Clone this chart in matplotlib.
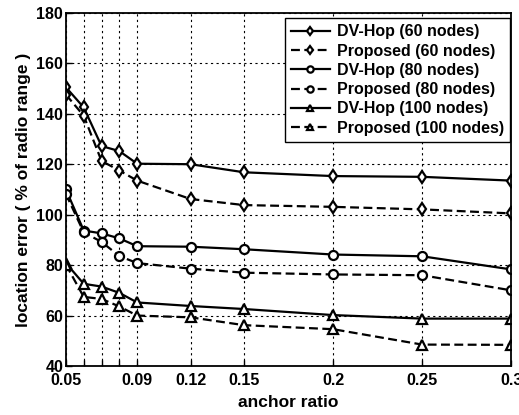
import matplotlib
matplotlib.use("Agg")
import matplotlib.pyplot as plt

# anchor ratios used in the simulations
anchor_ratio = [0.05, 0.06, 0.07, 0.08, 0.09, 0.12, 0.15, 0.2, 0.25, 0.3]

# location error, % of radio range
dvhop_60 = [150.5, 142.5, 127.2, 125.2, 120.2, 120.0, 116.8, 115.3, 115.0, 113.5]
prop_60 = [147.6, 139.2, 121.3, 117.5, 113.5, 106.2, 103.8, 103.1, 102.1, 100.5]
dvhop_80 = [110.0, 93.7, 92.6, 90.6, 87.5, 87.3, 86.3, 84.2, 83.5, 78.3]
prop_80 = [108.2, 93.0, 89.2, 83.6, 80.8, 78.6, 77.0, 76.3, 76.0, 70.0]
dvhop_100 = [80.8, 72.6, 71.5, 69.0, 65.2, 63.8, 62.6, 60.2, 58.8, 58.8]
prop_100 = [80.2, 67.4, 66.6, 63.6, 60.0, 59.3, 56.2, 54.6, 48.5, 48.4]

xtick_labels = ["0.05", "", "", "", "0.09", "0.12", "0.15", "0.2", "0.25", "0.3"]
yticks = [40, 60, 80, 100, 120, 140, 160, 180]

plt.rcParams["font.family"] = ["Liberation Sans", "DejaVu Sans"]
plt.rcParams["font.weight"] = "bold"

fig = plt.figure(figsize=(5.19, 4.15), dpi=100)
ax = fig.add_axes([0.127, 0.118, 0.858, 0.851])

series = [
    (dvhop_60, "-", "d", "DV-Hop (60 nodes)"),
    (prop_60, "--", "d", "Proposed (60 nodes)"),
    (dvhop_80, "-", "o", "DV-Hop (80 nodes)"),
    (prop_80, "--", "o", "Proposed (80 nodes)"),
    (dvhop_100, "-", "^", "DV-Hop (100 nodes)"),
    (prop_100, "--", "^", "Proposed (100 nodes)"),
]
for vals, ls, mk, lab in series:
    ax.plot(anchor_ratio, vals, linestyle=ls, marker=mk, color="black",
            linewidth=1.6, markersize=6.5, markerfacecolor="white",
            markeredgecolor="black", markeredgewidth=1.6, label=lab,
            dashes=(4, 2) if ls == "--" else (None, None))

ax.set_xlim(0.05, 0.3)
ax.set_ylim(40, 180)
ax.set_xticks(anchor_ratio)
ax.set_xticklabels(xtick_labels)
ax.set_yticks(yticks)
ax.tick_params(direction="in", labelsize=11.5, length=4, width=1)
ax.tick_params(axis="x", pad=5)
ax.tick_params(axis="y", pad=2)
for lbl in ax.get_xticklabels() + ax.get_yticklabels():
    lbl.set_fontweight("bold")

ax.grid(True, color="black", linestyle=(0, (2, 3)), linewidth=0.8)
for sp in ax.spines.values():
    sp.set_linewidth(1.3)

ax.set_xlabel("anchor ratio", fontsize=12.5, fontweight="bold", labelpad=5)
ax.set_ylabel("location error ( % of radio range )", fontsize=12.5,
              fontweight="bold", labelpad=4)

leg = ax.legend(loc="upper right", bbox_to_anchor=(0.998, 0.986),
                borderaxespad=0, fancybox=False, edgecolor="black",
                framealpha=1, handlelength=2.4, labelspacing=0.27,
                handletextpad=0.45, borderpad=0.4, markerscale=0.7,
                prop={"size": 11.5, "weight": "bold"})
leg.get_frame().set_linewidth(1.0)

fig.savefig("out.png", dpi=100)
